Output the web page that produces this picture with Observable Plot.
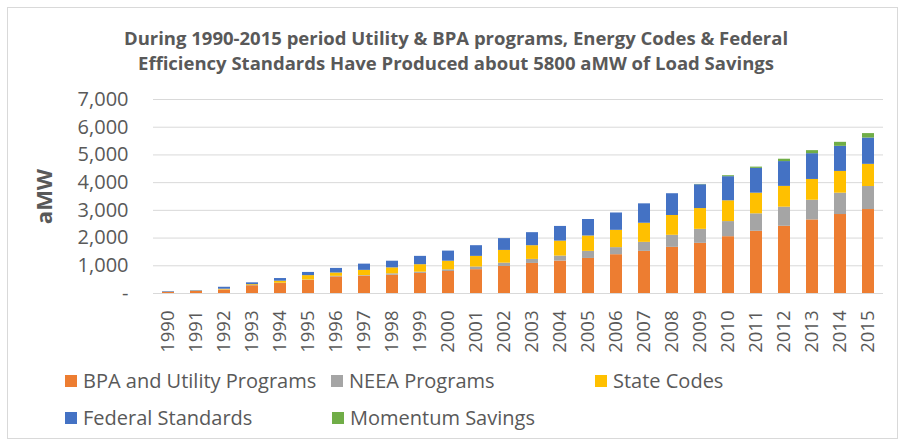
<!DOCTYPE html>
<html>
<head>
<meta charset="utf-8">
<script src="https://cdn.jsdelivr.net/npm/d3@7"></script>
<script src="https://cdn.jsdelivr.net/npm/@observablehq/plot@0.6"></script>
<style>
  html, body { margin: 0; padding: 0; background: #fff; }
  #wrap { position: relative; width: 904px; height: 444px; overflow: hidden; font-family: "Open Sans", sans-serif; }
  #frame { position: absolute; left: 7px; top: 7px; width: 891px; height: 432px; border: 1px solid #d9d9d9; box-sizing: border-box; }
  #title { position: absolute; left: 0; top: 25px; width: 912px; text-align: center; font-weight: bold; font-size: 18.5px; line-height: 25px; color: #595959; }
  #chart { position: absolute; left: 0; top: 80px; }
  #legend { position: absolute; left: 65px; top: 367px; width: 820px; }
  .item { position: absolute; display: flex; align-items: center; font-size: 20px; color: #595959; white-space: nowrap; }
  .sw { width: 12px; height: 12px; margin-right: 6px; }
</style>
</head>
<body>
<div id="wrap">
  <div id="frame"></div>
  <div id="title">During 1990-2015 period Utility &amp; BPA programs, Energy Codes &amp; Federal<br>Efficiency Standards Have Produced about 5800 aMW of Load Savings</div>
  <div id="chart"></div>
  <div id="legend"></div>
</div>
<script>
const years = ["1990","1991","1992","1993","1994","1995","1996","1997","1998","1999","2000","2001","2002","2003","2004","2005","2006","2007","2008","2009","2010","2011","2012","2013","2014","2015"];
const series = ["BPA and Utility Programs", "NEEA Programs", "State Codes", "Federal Standards", "Momentum Savings"];
const colors = ["#ED7D31", "#A5A5A5", "#FFC000", "#4472C4", "#70AD47"];
const bpaUtility = [40, 75, 125, 280, 360, 470, 600, 625, 660, 725, 795, 860, 975, 1085, 1170, 1265, 1400, 1520, 1665, 1810, 2050, 2245, 2425, 2655, 2850, 3030];
const neea       = [5, 5, 5, 10, 10, 15, 20, 20, 50, 45, 60, 95, 120, 145, 180, 255, 255, 325, 435, 505, 545, 630, 690, 710, 770, 830];
const stateCodes = [5, 10, 25, 30, 75, 160, 120, 190, 215, 270, 310, 385, 460, 495, 540, 555, 625, 690, 715, 750, 750, 745, 750, 750, 785, 800];
const federal    = [20, 15, 70, 65, 95, 115, 165, 225, 240, 300, 365, 385, 425, 470, 530, 595, 625, 700, 785, 860, 870, 895, 895, 930, 905, 950];
const momentum   = [0, 0, 0, 0, 0, 0, 0, 0, 0, 0, 0, 0, 0, 0, 0, 0, 0, 0, 0, 10, 35, 45, 85, 110, 145, 160];
const yTicks = [0, 1000, 2000, 3000, 4000, 5000, 6000, 7000];

const valuesBySeries = [bpaUtility, neea, stateCodes, federal, momentum];
const data = [];
series.forEach((s, i) => {
  years.forEach((y, j) => data.push({year: y, series: s, value: valuesBySeries[i][j]}));
});

const fmt = d3.format(",");
const chart = Plot.plot({
  width: 904,
  height: 280,
  marginLeft: 153,
  marginRight: 21,
  marginTop: 19,
  marginBottom: 67,
  style: {fontFamily: "Open Sans, sans-serif", fontSize: "18px", color: "#595959", background: "transparent", overflow: "visible"},
  x: {type: "band", domain: years, paddingInner: 0.57, paddingOuter: 0.32},
  y: {domain: [0, 7000]},
  color: {domain: series, range: colors},
  marks: [
    Plot.gridY(yTicks, {stroke: "#d9d9d9", strokeOpacity: 1}),
    Plot.axisY(yTicks, {tickSize: 0, tickPadding: 25, tickFormat: d => d === 0 ? "-" : fmt(d), fontSize: 20, fill: "#595959",
      label: "aMW", labelAnchor: "center", labelArrow: "none", labelOffset: 117}),
    Plot.axisX({tickRotate: -90, tickSize: 0, tickPadding: 17, label: null, fontSize: 18.5, fill: "#595959"}),
    Plot.barY(data, Plot.stackY({x: "year", y: "value", fill: "series"}))
  ]
});
document.getElementById("chart").appendChild(chart);
chart.querySelectorAll("text").forEach(t => {
  if (t.textContent === "aMW") { t.setAttribute("font-weight", "bold"); t.setAttribute("font-size", "22"); }
});

const legend = document.getElementById("legend");
const pos = [[0, 0], [266, 0], [530, 0], [0, 37], [267, 37]];
series.forEach((s, i) => {
  const it = document.createElement("div");
  it.className = "item";
  it.style.left = pos[i][0] + "px";
  it.style.top = pos[i][1] + "px";
  const sw = document.createElement("div");
  sw.className = "sw";
  sw.style.background = colors[i];
  it.appendChild(sw);
  const tx = document.createElement("span");
  tx.textContent = s;
  it.appendChild(tx);
  legend.appendChild(it);
});
</script>
</body>
</html>
